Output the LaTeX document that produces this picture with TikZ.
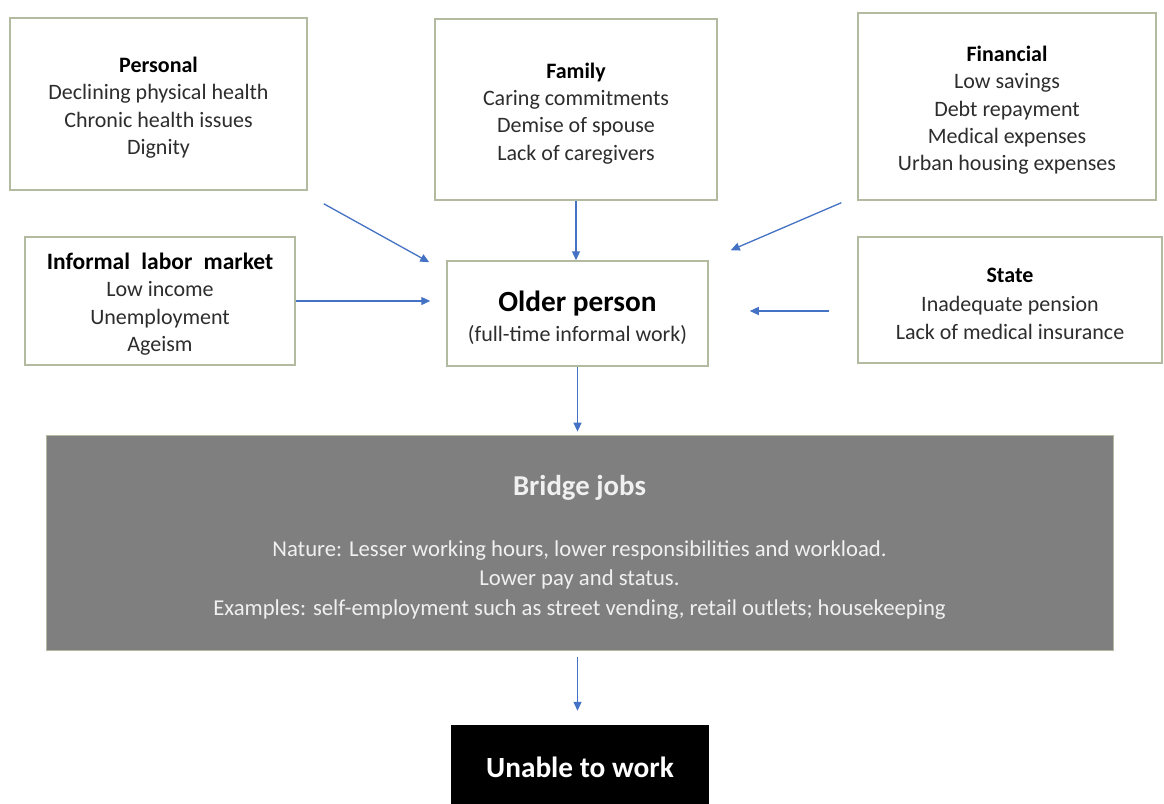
\documentclass[tikz,border=0pt]{standalone}
\usepackage{fontspec}
\setmainfont{Carlito}
\usetikzlibrary{arrows.meta,calc}
\definecolor{boxline}{RGB}{178,186,160}
\definecolor{arrowblue}{RGB}{68,114,196}
\definecolor{bodytext}{RGB}{45,45,45}
\definecolor{bridgefill}{RGB}{127,127,127}
\definecolor{bridgetext}{RGB}{240,240,240}

\begin{document}
\begin{tikzpicture}[x=1pt,y=-1pt,
  factor/.style={draw=boxline, line width=1.5pt, fill=white, inner sep=0pt,
    align=center, text=bodytext, font=\fontsize{22}{27.3}\selectfont},
  flow/.style={draw=arrowblue, line width=1.3pt,
    -{Triangle[length=9pt,width=8pt]}},
]
% bold heading line, with a taller strut so the block sits a little lower
\newcommand{\hd}[2][23pt]{\rule{0pt}{#1}\textcolor{black}{\bfseries #2}}
\clip (0,0) rectangle (1164,803);
\fill[white] (0,0) rectangle (1164,803);

% influencing factors
\node[factor, minimum width=297pt, minimum height=172pt] (personal) at (158.5,104)
  {\hd{Personal}\\Declining physical health\\Chronic health issues\\Dignity};
\node[factor, minimum width=282pt, minimum height=181pt] (family) at (576,109.5)
  {\hd{Family}\\Caring commitments\\Demise of spouse\\Lack of caregivers};
\node[factor, minimum width=298pt, minimum height=187pt] (financial) at (1007,106.5)
  {\hd{Financial}\\Low savings\\Debt repayment\\Medical expenses\\Urban housing expenses};
\node[factor, minimum width=270pt, minimum height=128pt] (informal) at (160,301)
  {\hd{\fontsize{23.5}{27.3}\selectfont Informal\hspace{6pt} labor\hspace{6pt} market}\\Low income\\Unemployment\\Ageism};
\node[factor, minimum width=304pt, minimum height=126pt,
  font=\fontsize{22}{28.5}\selectfont] (state) at (1010,300)
  {\hd{State}\\Inadequate pension\\Lack of medical insurance};

% central node
\node[factor, minimum width=261pt, minimum height=105pt,
  font=\fontsize{22}{30}\selectfont] (older) at (577.5,313.5)
  {\hd[30pt]{\fontsize{29.3}{30}\selectfont Older person}\\(full-time informal work)};

% outcomes
\node[draw=boxline, line width=0.8pt, fill=bridgefill, text=bridgetext,
  minimum width=1067pt, minimum height=215pt, inner sep=0pt, align=center,
  font=\fontsize{22.7}{29.5}\selectfont] (bridge) at (579.5,542.5)
  {\rule{0pt}{30pt}{\bfseries\fontsize{28.8}{29.5}\selectfont Bridge jobs}\\[31pt]
   Nature: Lesser working hours, lower responsibilities and workload.\\
   Lower pay and status.\\
   Examples: self-employment such as street vending, retail outlets; housekeeping};
\node[fill=black, text=white, minimum width=258pt, minimum height=84pt,
  inner sep=0pt, font=\fontsize{29.3}{30}\selectfont\bfseries] (unable) at (580,767)
  {Unable to work};

% connectors
\coordinate (p1) at ($(personal.south east)+(16,13)$);
\coordinate (p2) at ($(older.north west)+(-17,2)$);
\draw[flow] (p1) -- (p2);
\draw[flow] (family.south) -- (family.south |- older.north);
\draw[flow] (informal.east) -- ($(informal.east -| older.west)+(-16,0)$);
\coordinate (f1) at ($(financial.south west)+(-16,2)$);
\coordinate (f2) at ($(older.north east)+(22,-10)$);
\draw[flow] (f1) -- (f2);
\coordinate (s1) at ($(state.west)+(-28,11)$);
\coordinate (s2) at ($(s1 -| older.east)+(41,0)$);
\draw[flow] (s1) -- (s2);
\draw[flow] (older.south) -- ($(older.south |- bridge.north)+(0,-3)$);
\coordinate (b1) at ($(bridge.south)+(-2,7)$);
\draw[flow] (b1) -- ($(b1 |- unable.north)+(0,-14)$);
\end{tikzpicture}
\end{document}
